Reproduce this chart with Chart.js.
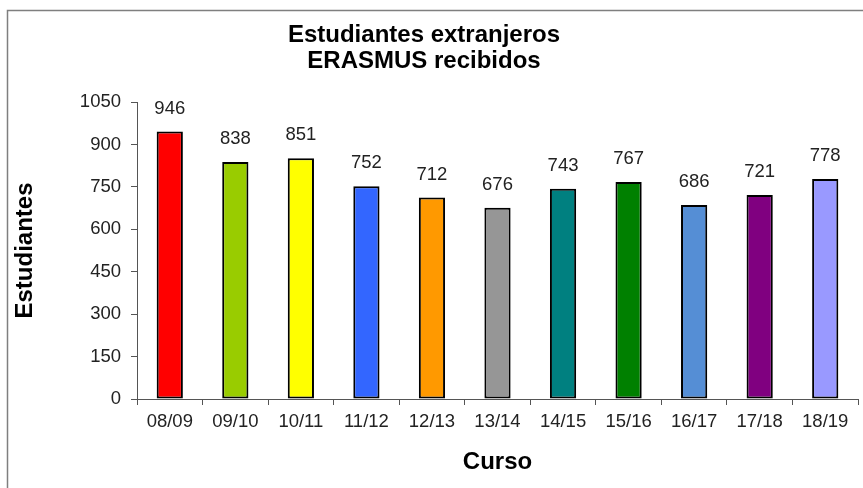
<!DOCTYPE html>
<html>
<head>
<meta charset="utf-8">
<script src="https://cdn.jsdelivr.net/npm/chart.js@4.4.1/dist/chart.umd.min.js"></script>
<style>
  html, body { margin: 0; padding: 0; background: #fff; }
  #wrap { position: relative; width: 863px; height: 488px; }
</style>
</head>
<body>
<div id="wrap"><canvas id="chart" width="863" height="488"></canvas></div>
<script>
const cursos = ['08/09', '09/10', '10/11', '11/12', '12/13', '13/14', '14/15', '15/16', '16/17', '17/18', '18/19'];
const estudiantes = [946, 838, 851, 752, 712, 676, 743, 767, 686, 721, 778];
const barColors = ['#FF0000', '#99CC00', '#FFFF00', '#3366FF', '#FF9900', '#969696',
                   '#008080', '#008000', '#558ED5', '#800080', '#9999FF'];
const titleLines = ['Estudiantes extranjeros', 'ERASMUS recibidos'];

const FONT = "'Liberation Sans', Arial, sans-serif";

// Frame, title and the value labels over each bar
const decorPlugin = {
  id: 'decor',
  beforeDraw(chart) {
    const ctx = chart.ctx;
    ctx.save();
    ctx.fillStyle = '#fff';
    ctx.fillRect(0, 0, chart.width, chart.height);
    ctx.strokeStyle = '#7f7f7f';
    ctx.lineWidth = 1.5;
    ctx.beginPath();
    ctx.moveTo(7.5, chart.height + 5);
    ctx.lineTo(7.5, 10.5);
    ctx.lineTo(chart.width + 5, 10.5);
    ctx.stroke();
    ctx.restore();
  },
  afterDatasetsDraw(chart) {
    const ctx = chart.ctx;
    ctx.save();
    ctx.fillStyle = '#000';
    ctx.textAlign = 'center';
    ctx.textBaseline = 'middle';
    ctx.font = `bold 24px ${FONT}`;
    titleLines.forEach((t, i) => ctx.fillText(t, 424, 35 + i * 26));

    ctx.font = `18.5px ${FONT}`;
    ctx.fillStyle = '#222';
    const meta = chart.getDatasetMeta(0);
    meta.data.forEach((bar, i) => {
      ctx.fillText(String(estudiantes[i]), bar.x, bar.y - 23);
    });
    ctx.restore();
  }
};

new Chart(document.getElementById('chart'), {
  type: 'bar',
  data: {
    labels: cursos,
    datasets: [{
      data: estudiantes,
      backgroundColor: barColors,
      borderColor: '#000',
      borderWidth: 2,
      borderSkipped: false,
      barPercentage: 0.4,
      categoryPercentage: 1.0,
    }]
  },
  options: {
    responsive: false,
    animation: false,
    layout: { padding: { top: 102, right: 5, left: 0, bottom: 0 } },
    plugins: {
      legend: { display: false },
      tooltip: { enabled: false },
      title: { display: false }
    },
    scales: {
      x: {
        offset: true,
        grid: { offset: true, drawOnChartArea: false, drawTicks: true, tickLength: 6, color: '#555' },
        border: { color: '#555', width: 1 },
        ticks: { color: '#222', font: { family: FONT, size: 18.5 }, padding: 6, maxRotation: 0 },
        title: { display: true, text: 'Curso', color: '#000', font: { family: FONT, size: 24, weight: 'bold' }, padding: { top: 0, bottom: 11 } },
        afterFit(scale) { scale.height = 89; }
      },
      y: {
        min: 0,
        max: 1050,
        ticks: {
          stepSize: 150,
          color: '#222',
          font: { family: FONT, size: 18.5 },
          padding: 10,
          callback: (v) => String(v)
        },
        grid: { drawOnChartArea: false, drawTicks: true, tickLength: 6, color: '#555' },
        border: { color: '#555', width: 1 },
        title: { display: true, text: 'Estudiantes', color: '#000', font: { family: FONT, size: 24, weight: 'bold' }, padding: { top: 11, bottom: 0 } },
        afterFit(scale) { scale.width = 137; }
      }
    }
  },
  plugins: [decorPlugin]
});
</script>
</body>
</html>
